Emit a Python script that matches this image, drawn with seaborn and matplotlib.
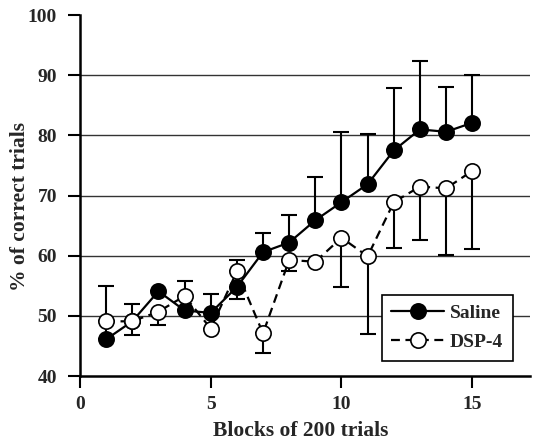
import numpy as np
import pandas as pd
import matplotlib
matplotlib.use("Agg")
import matplotlib.pyplot as plt
import seaborn as sns

blocks = list(range(1, 16))
saline = [46.1, 49.1, 54.1, 50.9, 50.5, 54.8, 60.6, 62.2, 65.9, 68.9, 71.9, 77.5, 81.0, 80.6, 82.1]
saline_err_up = [8.9, 2.8, 0, 0, 3.2, 0, 3.2, 4.6, 7.2, 11.7, 8.3, 10.4, 11.3, 7.4, 7.9]
saline_err_down = [0, 0, 0, 0, 0, 2.0, 0, 0, 0, 0, 0, 0, 0, 0, 0]
dsp4 = [49.1, 49.1, 50.7, 53.3, 47.9, 57.4, 47.1, 59.3, 59.0, 63.0, 59.9, 68.9, 71.5, 71.2, 74.1]
dsp4_err_up = [0, 0, 0, 2.5, 0, 1.9, 0, 0, 0, 0, 0, 0, 0, 0, 0]
dsp4_err_down = [0, 2.3, 2.2, 0, 0, 0, 3.2, 1.9, 0, 8.2, 12.9, 7.6, 8.9, 11.0, 13.0]

sns.set_style("ticks")
plt.rcParams['font.family'] = ['Liberation Serif', 'DejaVu Serif']
plt.rcParams['font.weight'] = 'bold'

fig = plt.figure(figsize=(5.33, 4.44), dpi=100)
ax = fig.add_axes([0.150, 0.153, 0.844, 0.813])

df = pd.DataFrame({"block": blocks * 2,
                   "pct": saline + dsp4,
                   "group": ["Saline"] * 15 + ["DSP-4"] * 15})

# gridlines
for yv in [50, 60, 70, 80, 90]:
    ax.axhline(yv, color="#333333", lw=1.0, zorder=0)

# error bars
ax.errorbar(blocks, saline, yerr=[saline_err_down, saline_err_up], fmt="none",
            ecolor="black", elinewidth=1.5, capsize=5.5, capthick=1.5, zorder=2)
ax.errorbar(blocks, dsp4, yerr=[dsp4_err_down, dsp4_err_up], fmt="none",
            ecolor="black", elinewidth=1.5, capsize=5.5, capthick=1.5, zorder=2)

sns.lineplot(data=df[df.group == "Saline"], x="block", y="pct", ax=ax,
             color="black", lw=1.6, marker="o", markersize=11,
             markerfacecolor="black", markeredgecolor="black", markeredgewidth=1.2,
             label="Saline", zorder=3)
sns.lineplot(data=df[df.group == "DSP-4"], x="block", y="pct", ax=ax,
             color="black", lw=1.6, marker="o", markersize=11, linestyle=(0, (4, 2.5)),
             markerfacecolor="white", markeredgecolor="black", markeredgewidth=1.2,
             label="DSP-4", zorder=4)

ax.set_xlim(0, 17.2)
ax.set_ylim(40, 100)
ax.set_xticks([0, 5, 10, 15])
ax.set_yticks([40, 50, 60, 70, 80, 90, 100])
ax.tick_params(axis="both", direction="out", length=8.5, width=1.5, labelsize=14, color="black")
ax.tick_params(axis="y", pad=8)
ax.tick_params(axis="x", pad=6)
for lab in ax.get_xticklabels() + ax.get_yticklabels():
    lab.set_fontweight("bold")
for s in ["top", "right"]:
    ax.spines[s].set_visible(False)
for s in ["left", "bottom"]:
    ax.spines[s].set_linewidth(1.8)
    ax.spines[s].set_color("black")

ax.set_xlabel("Blocks of 200 trials", fontsize=15.5, fontweight="bold")
ax.set_ylabel("% of correct trials", fontsize=15.5, fontweight="bold")
ax.xaxis.set_label_coords(0.49, -0.152, transform=ax.transAxes)
ax.yaxis.set_label_coords(-0.133, 0.47, transform=ax.transAxes)
ax.xaxis.label.set_verticalalignment("center")
ax.yaxis.label.set_verticalalignment("center")

leg = ax.legend(loc="lower right", bbox_to_anchor=(0.962, 0.042), frameon=True, fancybox=False,
                edgecolor="black", framealpha=1, prop={"weight": "bold", "size": 14},
                handlelength=2.7, borderpad=0.5, labelspacing=0.6, handletextpad=0.3,
                borderaxespad=0)
leg.get_frame().set_linewidth(1.2)

fig.savefig("out.png", dpi=100)
